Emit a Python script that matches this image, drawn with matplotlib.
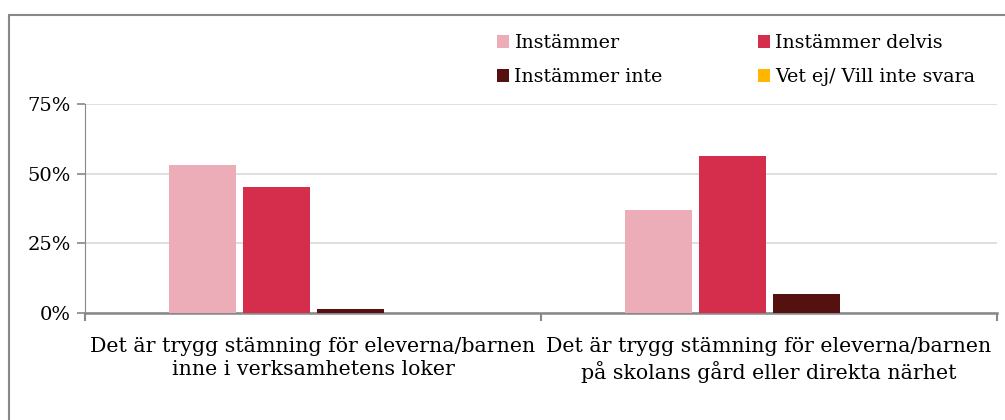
import matplotlib
matplotlib.use("Agg")
import matplotlib.pyplot as plt
import numpy as np
from matplotlib.patches import Rectangle
from matplotlib.ticker import FuncFormatter

# data
categories = [
    "Det är trygg stämning för eleverna/barnen\ninne i verksamhetens loker",
    "Det är trygg stämning för eleverna/barnen\npå skolans gård eller direkta närhet",
]
series_names = ["Instämmer", "Instämmer delvis", "Instämmer inte", "Vet ej/ Vill inte svara"]
instammer = [53.1, 37.1]
instammer_delvis = [45.1, 56.4]
instammer_inte = [1.4, 6.7]
vet_ej = [0.0, 0.0]
y_ticks = [0, 25, 50, 75]

colors = ["#EDADB8", "#D42E4C", "#54110F", "#FFB600"]

plt.rcParams["font.family"] = ["DejaVu Serif"]

fig = plt.figure(figsize=(10.05, 4.2), dpi=100)
W, H = 1005, 420
ax = fig.add_axes([85 / W, (H - 313) / H, (997 - 85) / W, (313 - 104) / H])

# outer chart border
fig.patches.append(Rectangle((9 / W, -0.1), 1.2, (H - 15) / H + 0.1,
                             transform=fig.transFigure, fill=False,
                             edgecolor="#888888", lw=1.5))

x = np.arange(len(categories))
step = 74 / 456
width = 67 / 456
all_series = [instammer, instammer_delvis, instammer_inte, vet_ej]
bars = []
for i, (vals, name, c) in enumerate(zip(all_series, series_names, colors)):
    bars.append(ax.bar(x + (i - 1.5) * step, vals, width, color=c, label=name, zorder=3))

ax.set_xlim(-0.5, len(categories) - 0.5)
ax.set_ylim(0, 75)
ax.set_yticks(y_ticks)
ax.yaxis.set_major_formatter(FuncFormatter(lambda v, p: f"{v:.0f}%"))
ax.grid(axis="y", color="#D9D9D9", lw=1.2, zorder=0)

ax.set_xticks(x)
ax.set_xticklabels(categories, fontsize=14.8, linespacing=1.3)
ax.tick_params(axis="x", length=0, pad=17)
ax.set_xticks(np.arange(-0.5, len(categories)), minor=True)
ax.tick_params(axis="x", which="minor", length=6, color="#888888", width=1.5)
ax.tick_params(axis="y", length=6, color="#888888", width=1.2, labelsize=14, pad=4)

for s in ["top", "right"]:
    ax.spines[s].set_visible(False)
ax.spines["left"].set_color("#888888")
ax.spines["bottom"].set_color("#888888")
ax.spines["bottom"].set_linewidth(1.8)

# legend is filled column by column, so order handles to read row-wise
order = [0, 2, 1, 3]
fig.legend([bars[i] for i in order], [series_names[i] for i in order],
           loc="upper left", bbox_to_anchor=(480 / W, (H - 17) / H), ncol=2,
           frameon=False, fontsize=13.7, handlelength=0.65, handleheight=0.65,
           handletextpad=0.25, columnspacing=5.0, labelspacing=0.85)

fig.savefig("out.png", dpi=100)
